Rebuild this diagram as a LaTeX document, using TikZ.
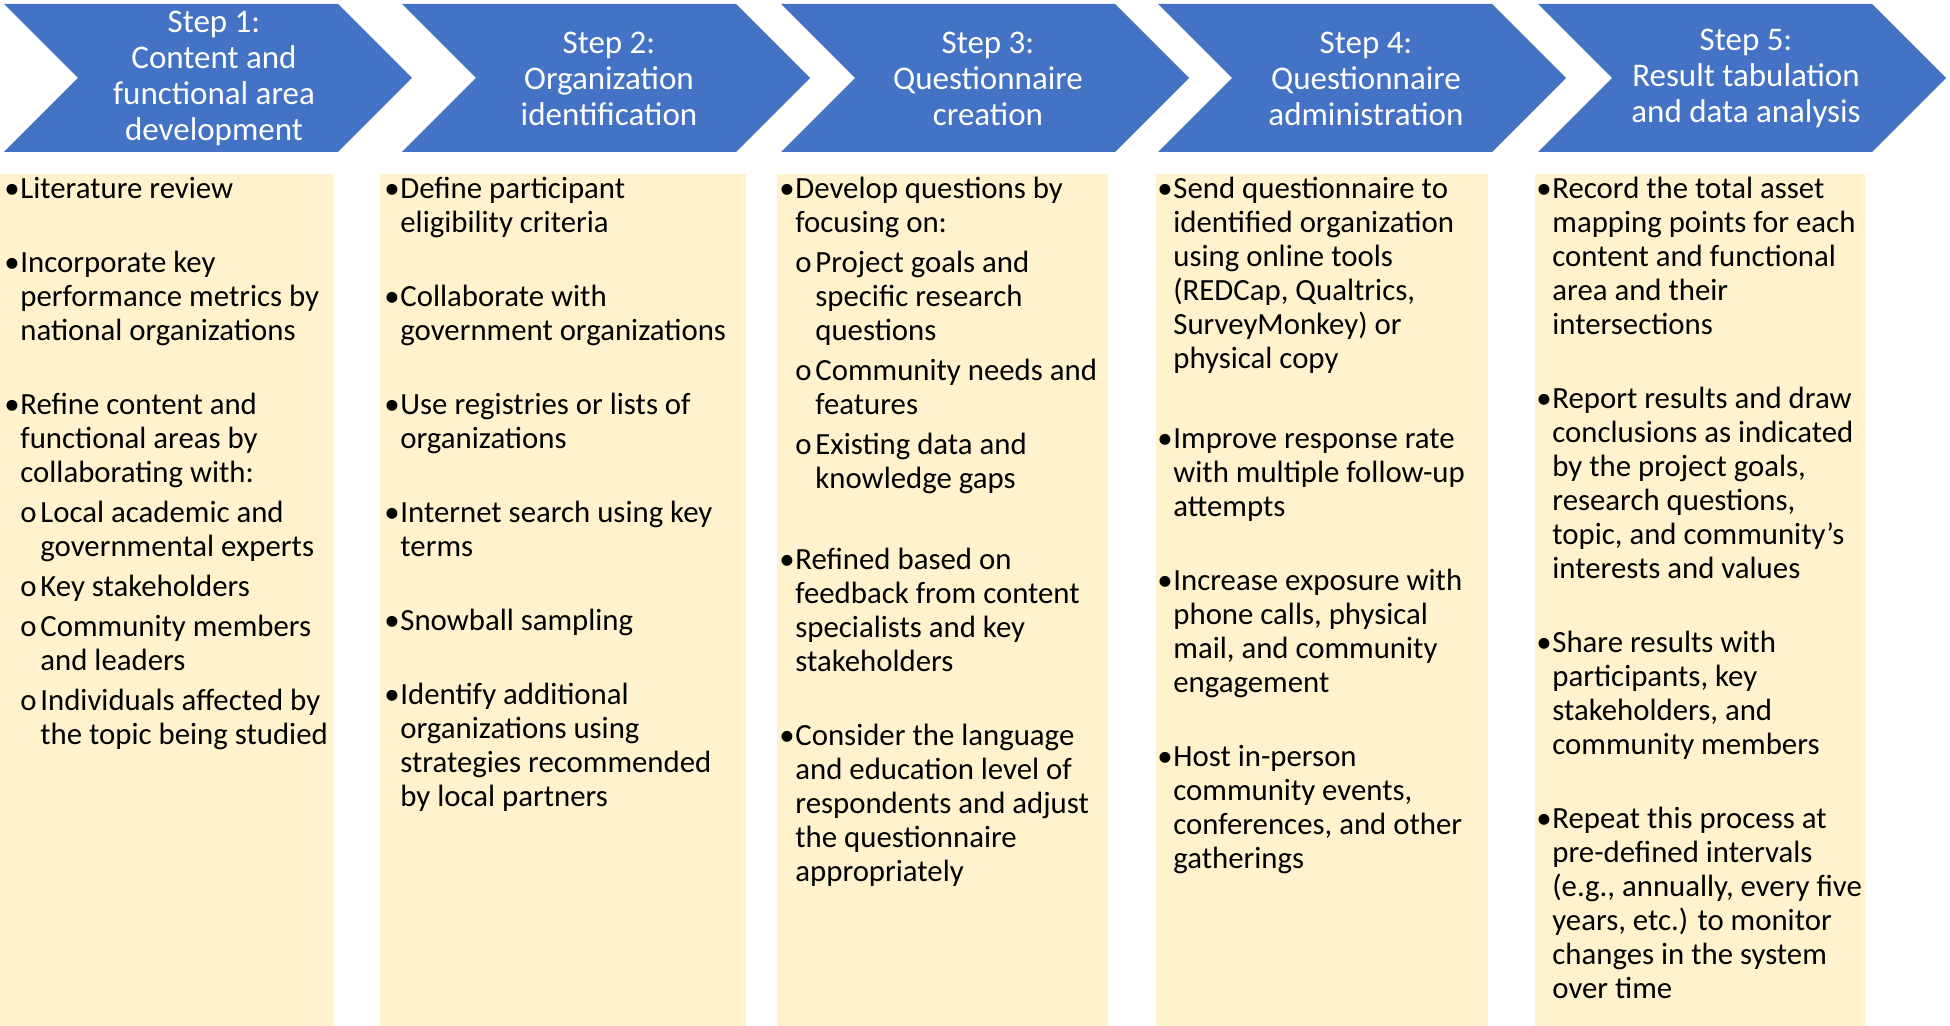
\documentclass[tikz,border=0pt]{standalone}
\usepackage{fontspec}
\setmainfont{Carlito}
\definecolor{stepblue}{HTML}{4472C4}
\definecolor{notefill}{HTML}{FFF2CC}
\newcommand{\bul}{\makebox[8pt][l]{\textbullet}}
\newcommand{\bcont}{\hspace*{8pt}}
\newcommand{\sbul}{\hspace*{8pt}\makebox[10pt][l]{o}}
\newcommand{\scont}{\hspace*{18pt}}
\tikzset{
  steparrow/.style={fill=stepblue},
  steptext/.style={text=white,align=center,inner sep=0pt,font=\fontsize{16.5}{18}\selectfont},
  notebox/.style={fill=notefill},
  notetext/.style={anchor=north west,inner sep=0pt,align=left,font=\fontsize{15.4}{17}\selectfont}
}
\begin{document}
\begin{tikzpicture}[x=0.5pt,y=-0.5pt]
\useasboundingbox (0,0) rectangle (1950,1026);
% step arrows
\foreach \lx/\tx/\lbl [count=\i] in {4/214/{Step 1:\\Content and\\functional area\\development},
    402/609/{Step 2:\\Organization\\identification},
    781/988/{Step 3:\\Questionnaire\\creation},
    1158/1366/{Step 4:\\Questionnaire\\administration},
    1538/1746/{Step 5:\\Result tabulation\\and data analysis}}{
  \fill[steparrow] (\lx,4) -- ++(334,0) -- ++(74,74) -- ++(-74,74) -- ++(-334,0) -- ++(74,-74) -- cycle;
  \node[steptext] (step\i) at (\tx,78.5) {\lbl};
}
% note boxes
\foreach \bx/\bw in {0/333,380/366,777/331,1156/332,1535/330}
  \fill[notebox] (\bx,174) rectangle ++(\bw,852);
\node[notetext] (list1) at (4,174) {\strut\bul Literature review\\[20pt]
  \bul Incorporate key\\
  \bcont performance metrics by\\
  \bcont national organizations\\[20pt]
  \bul Refine content and\\
  \bcont functional areas by\\
  \bcont collaborating with:\\[3pt]
  \sbul Local academic and\\
  \scont governmental experts\\[3pt]
  \sbul Key stakeholders\\[3pt]
  \sbul Community members\\
  \scont and leaders\\[3pt]
  \sbul Individuals affected by\\
  \scont the topic being studied};
\node[notetext] (list2) at (384,174) {\strut\bul Define participant\\
  \bcont eligibility criteria\\[20pt]
  \bul Collaborate with\\
  \bcont government organizations\\[20pt]
  \bul Use registries or lists of\\
  \bcont organizations\\[20pt]
  \bul Internet search using key\\
  \bcont terms\\[20pt]
  \bul Snowball sampling\\[20pt]
  \bul Identify additional\\
  \bcont organizations using\\
  \bcont strategies recommended\\
  \bcont by local partners};
\node[notetext] (list3) at (779,174) {\strut\bul Develop questions by\\
  \bcont focusing on:\\[3pt]
  \sbul Project goals and\\
  \scont specific research\\
  \scont questions\\[3pt]
  \sbul Community needs and\\
  \scont features\\[3pt]
  \sbul Existing data and\\
  \scont knowledge gaps\\[23.5pt]
  \bul Refined based on\\
  \bcont feedback from content\\
  \bcont specialists and key\\
  \bcont stakeholders\\[20pt]
  \bul Consider the language\\
  \bcont and education level of\\
  \bcont respondents and adjust\\
  \bcont the questionnaire\\
  \bcont appropriately};
\node[notetext] (list4) at (1157,174) {\strut\bul Send questionnaire to\\
  \bcont identified organization\\
  \bcont using online tools\\
  \bcont (REDCap, Qualtrics,\\
  \bcont SurveyMonkey) or\\
  \bcont physical copy\\[23pt]
  \bul Improve response rate\\
  \bcont with multiple follow-up\\
  \bcont attempts\\[20pt]
  \bul Increase exposure with\\
  \bcont phone calls, physical\\
  \bcont mail, and community\\
  \bcont engagement\\[20pt]
  \bul Host in-person\\
  \bcont community events,\\
  \bcont conferences, and other\\
  \bcont gatherings};
\node[notetext] (list5) at (1536,174) {\strut\bul Record the total asset\\
  \bcont mapping points for each\\
  \bcont content and functional\\
  \bcont area and their\\
  \bcont intersections\\[20pt]
  \bul Report results and draw\\
  \bcont conclusions as indicated\\
  \bcont by the project goals,\\
  \bcont research questions,\\
  \bcont topic, and community’s\\
  \bcont interests and values\\[20pt]
  \bul Share results with\\
  \bcont participants, key\\
  \bcont stakeholders, and\\
  \bcont community members\\[20pt]
  \bul Repeat this process at\\
  \bcont pre-defined intervals\\
  \bcont (e.g., annually, every five\\
  \bcont years, etc.) to monitor\\
  \bcont changes in the system\\
  \bcont over time};
\end{tikzpicture}
\end{document}
